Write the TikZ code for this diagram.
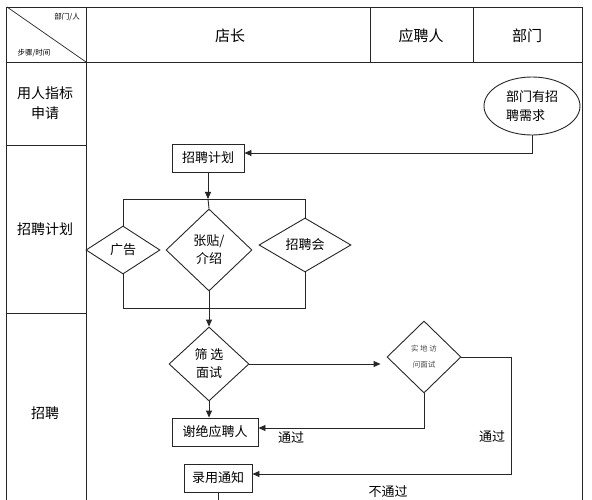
\documentclass[tikz,border=0pt]{standalone}
\usepackage{fontspec}
\setmainfont{Noto Sans CJK SC}
\usetikzlibrary{shapes.geometric,arrows.meta}
\tikzset{
  ln/.style={draw=black!85, line width=0.9pt},
  arr/.style={ln, -{Triangle[length=7pt,width=6pt]}},
  txt/.style={font=\fontsize{13}{17}\selectfont, inner sep=0pt},
  hdr/.style={font=\fontsize{15}{18}\selectfont, inner sep=0pt},
  tiny/.style={font=\fontsize{7.5}{9}\selectfont, inner sep=0pt},
  box/.style={ln, rectangle, font=\fontsize{13}{16}\selectfont, inner sep=0pt},
  dia/.style={ln, diamond, font=\fontsize{13}{18}\selectfont, inner sep=0pt, align=center},
  ell/.style={ln, ellipse, font=\fontsize{13}{19}\selectfont, inner sep=0pt, align=left}
}
\begin{document}
\begin{tikzpicture}[x=1pt,y=-1pt]
\useasboundingbox (0,0) rectangle (592,500);
% table
\draw[ln] (6,500) -- (6,7) -- (582,7) -- (582,500);
\draw[ln] (6,62) -- (582,62);
\draw[ln] (86,7) -- (86,500);
\draw[ln] (370,7) -- (370,62);
\draw[ln] (473,7) -- (473,62);
\draw[ln] (6,145) -- (86,145);
\draw[ln] (6,313) -- (86,313);
\draw[ln, line width=0.7pt] (7,7) -- (86,62);
\node[tiny, anchor=east] (c1) at (80,17) {部门/人};
\node[tiny] (c2) at (34,53) {步骤/时间};
\node[hdr] (h1) at (230,36) {店长};
\node[hdr] (h2) at (421,36) {应聘人};
\node[hdr] (h3) at (527,36) {部门};
\node[txt, align=center, font=\fontsize{14}{20}\selectfont] (r1) at (45,103) {用人指标\\申请};
\node[txt, font=\fontsize{14}{18}\selectfont] (r2) at (45,229) {招聘计划};
\node[txt, font=\fontsize{14}{18}\selectfont] (r3) at (45,413) {招聘};
% flow
\node[ell, minimum width=96, minimum height=58] (need) at (532,106) {部门有招\\聘需求};
\node[box, minimum width=72, minimum height=28] (plan) at (208,158) {招聘计划};
\node[dia, minimum width=74, minimum height=48] (ad) at (123,250) {广告};
\node[dia, minimum width=86, minimum height=82] (post) at (209,250) {张贴/\\介绍};
\node[dia, minimum width=92, minimum height=54] (fair) at (305,245) {招聘会};
\node[dia, minimum width=80, minimum height=74] (screen) at (209,364) {筛 选\\面试};
\node[dia, minimum width=74, minimum height=72, font=\fontsize{7.5}{16}\selectfont, text=black!70] (visit) at (424,357) {实 地 访\\问面试};
\node[box, minimum width=86, minimum height=28] (reject) at (215,432) {谢绝应聘人};
\node[box, minimum width=68, minimum height=28] (hire) at (218,478) {录用通知};
\coordinate (tl) at (123,199);
\coordinate (tr) at (305,199);
\coordinate (bl) at (123,308);
\coordinate (br) at (305,308);
\coordinate (vr) at (511,357);
\coordinate (end) at (215,502);
\draw[arr] (need.south) |- ([yshift=5pt]plan.east);
\draw[arr] (plan.south) -- (plan.south |- tl);
\draw[ln] (ad.north) -- (tl) -- (tr) -- (fair.north);
\draw[ln] (plan.south |- tl) -- (post.north);
\draw[ln] (ad.south) -- (bl) -- (br) -- (fair.south);
\draw[ln] (post.south) -- (post.south |- bl);
\draw[arr] (post.south |- bl) -- (screen.north);
\draw[arr, shorten >=6pt] (screen.east) -- (screen.east -| visit.west);
\draw[arr] (screen.south) -- (screen.south |- reject.north);
\draw[arr] (visit.south) |- ([yshift=4pt]reject.east);
\draw[arr] (visit.east) -- (vr) |- ([yshift=4pt]hire.east);
\draw[ln] (hire.south) -- (hire.south |- end);
\node[txt] (l1) at (291,438) {通过};
\node[txt] (l2) at (492,437) {通过};
\node[txt] (l3) at (388,492) {不通过};
\end{tikzpicture}
\end{document}
